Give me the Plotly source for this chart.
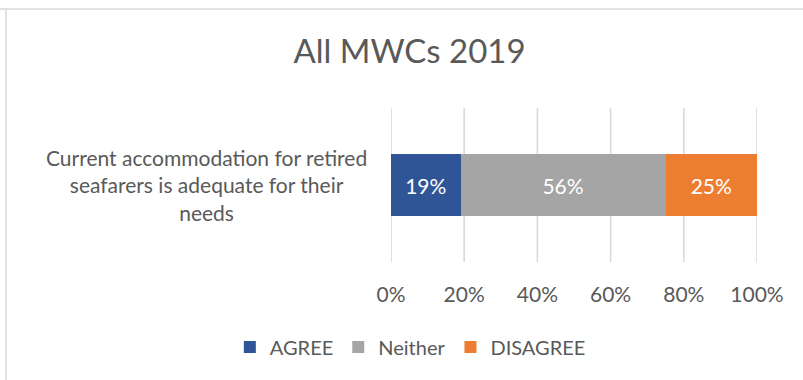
import plotly.graph_objects as go

# Survey statement and response shares (percent)
categories = ["Current accommodation for retired seafarers is adequate for their needs"]
agree = [19]
neither = [56]
disagree = [25]
tick_values = [0, 20, 40, 60, 80, 100]
tick_labels = ["0%", "20%", "40%", "60%", "80%", "100%"]

FONT = "Lato"
TEXT = "#595959"
GRID = "#D9D9D9"

series = [
    ("AGREE", agree, "#2F5597"),
    ("Neither", neither, "#A5A5A5"),
    ("DISAGREE", disagree, "#ED7D31"),
]

fig = go.Figure()
for name, vals, color in series:
    fig.add_trace(go.Bar(
        name=name,
        x=vals,
        y=categories,
        orientation="h",
        marker=dict(color=color, line=dict(width=0)),
        text=[f"{v}%" for v in vals],
        textposition="inside",
        insidetextanchor="middle",
        textfont=dict(family=FONT, size=21, color="white"),
    ))

# Vertical gridlines at every tick, including both ends of the axis
for tv in tick_values:
    fig.add_shape(type="line", xref="x", yref="paper",
                  x0=tv, x1=tv, y0=0, y1=1, layer="below",
                  line=dict(color=GRID, width=1.6))

# Category label, centred over several lines to the left of the bar
fig.add_annotation(
    text="Current accommodation for retired<br>seafarers is adequate for their<br>needs",
    xref="paper", yref="y", x=0, y=categories[0],
    xanchor="right", yanchor="middle", xshift=-22,
    align="center", showarrow=False,
    font=dict(family=FONT, size=21, color=TEXT),
)

fig.update_layout(
    width=803, height=380,
    barmode="stack",
    bargap=0.6,
    paper_bgcolor="white",
    plot_bgcolor="white",
    margin=dict(l=391, r=46, t=108, b=118),
    title=dict(
        text="All MWCs 2019",
        x=0.51, xref="container", xanchor="center",
        y=1 - 51 / 380, yref="container", yanchor="middle",
        font=dict(family=FONT, size=33, color=TEXT),
    ),
    legend=dict(
        orientation="h",
        xref="container", yref="container",
        x=0.511, xanchor="center",
        y=1 - 347 / 380, yanchor="middle",
        font=dict(family=FONT, size=20, color=TEXT),
        traceorder="normal",
        itemwidth=30,
    ),
    showlegend=True,
)

fig.update_xaxes(
    range=[0, 100],
    tickvals=tick_values,
    ticktext=tick_labels,
    showgrid=False,
    zeroline=False, showline=False,
    ticks="", ticklabelstandoff=18,
    tickfont=dict(family=FONT, size=21, color=TEXT),
    fixedrange=True,
)
fig.update_yaxes(
    showticklabels=False, showgrid=False, zeroline=False, showline=False,
    fixedrange=True,
)

# Chart frame: light top and left edges
fig.add_shape(type="line", xref="paper", yref="paper",
              x0=-391 / 366, x1=(803 - 391) / 366, y0=1 + 99 / 154, y1=1 + 99 / 154,
              line=dict(color=GRID, width=1.5))
fig.add_shape(type="line", xref="paper", yref="paper",
              x0=-385 / 366, x1=-385 / 366, y0=1 + 99 / 154, y1=-118 / 154,
              line=dict(color=GRID, width=1.5))

fig.write_html("out.html", config={"displayModeBar": False})
